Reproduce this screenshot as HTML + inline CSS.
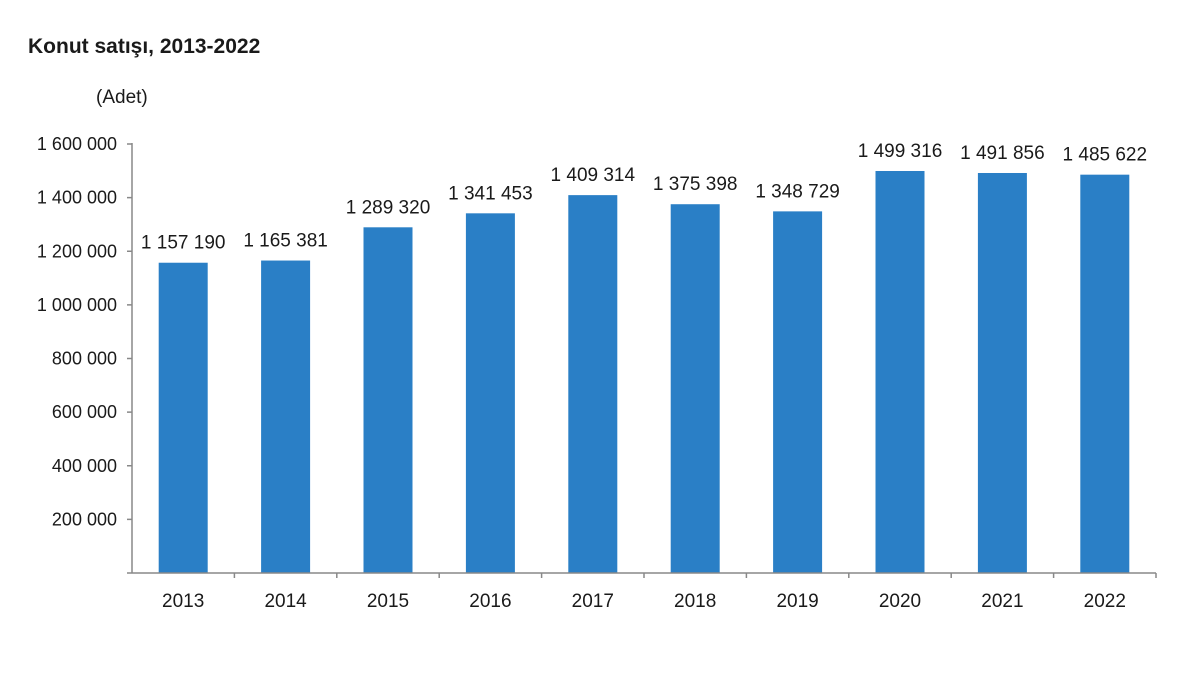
<!DOCTYPE html>
<html><head><meta charset="utf-8"><style>
body{margin:0;background:#fff;}
svg text{font-family:"Liberation Sans",Arial,sans-serif;fill:#1a1a1a;}
</style></head><body>
<svg width="1200" height="675" xmlns="http://www.w3.org/2000/svg">
<text x="28" y="53" font-size="21" font-weight="bold">Konut satışı, 2013-2022</text>
<text x="96" y="103" font-size="19">(Adet)</text>
<g id="y" font-size="18" text-anchor="end"></g>
<g id="c"></g>
<script>
var y0=573,k=429/1600000,ns="http://www.w3.org/2000/svg";
var g=document.getElementById('y'),c=document.getElementById('c');
function el(p,t,a,txt){var e=document.createElementNS(ns,t);for(var q in a)e.setAttribute(q,a[q]);if(txt)e.textContent=txt;p.appendChild(e);return e;}
var lbl=["200 000","400 000","600 000","800 000","1 000 000","1 200 000","1 400 000","1 600 000"];
for(var i=1;i<=8;i++){var yy=y0-i*200000*k;el(g,'text',{x:117,y:yy+6},lbl[i-1]);el(c,'line',{x1:127,x2:132,y1:yy,y2:yy,stroke:'#888','stroke-width':1.5});}
el(c,'line',{x1:127,x2:132,y1:y0,y2:y0,stroke:'#888','stroke-width':1.5});
var d=[1157190,1165381,1289320,1341453,1409314,1375398,1348729,1499316,1491856,1485622];
var s=["1 157 190","1 165 381","1 289 320","1 341 453","1 409 314","1 375 398","1 348 729","1 499 316","1 491 856","1 485 622"];
var w=102.4;
for(var i=0;i<10;i++){var cx=132+w*(i+0.5),h=d[i]*k;
el(c,'rect',{x:cx-24.5,y:y0-h,width:49,height:h,fill:'#2a7fc6'});
el(c,'text',{x:cx,y:y0-h-14,'font-size':19,'text-anchor':'middle'},s[i]);
el(c,'text',{x:cx,y:607,'font-size':19,'text-anchor':'middle'},String(2013+i));
el(c,'line',{x1:132+w*(i+1),x2:132+w*(i+1),y1:y0,y2:y0+5,stroke:'#888','stroke-width':1.5});}
el(c,'line',{x1:132,x2:132,y1:143,y2:y0,stroke:'#888','stroke-width':1.5});
el(c,'line',{x1:132,x2:1156,y1:y0,y2:y0,stroke:'#888','stroke-width':1.5});
</script>
</svg>
</body></html>
